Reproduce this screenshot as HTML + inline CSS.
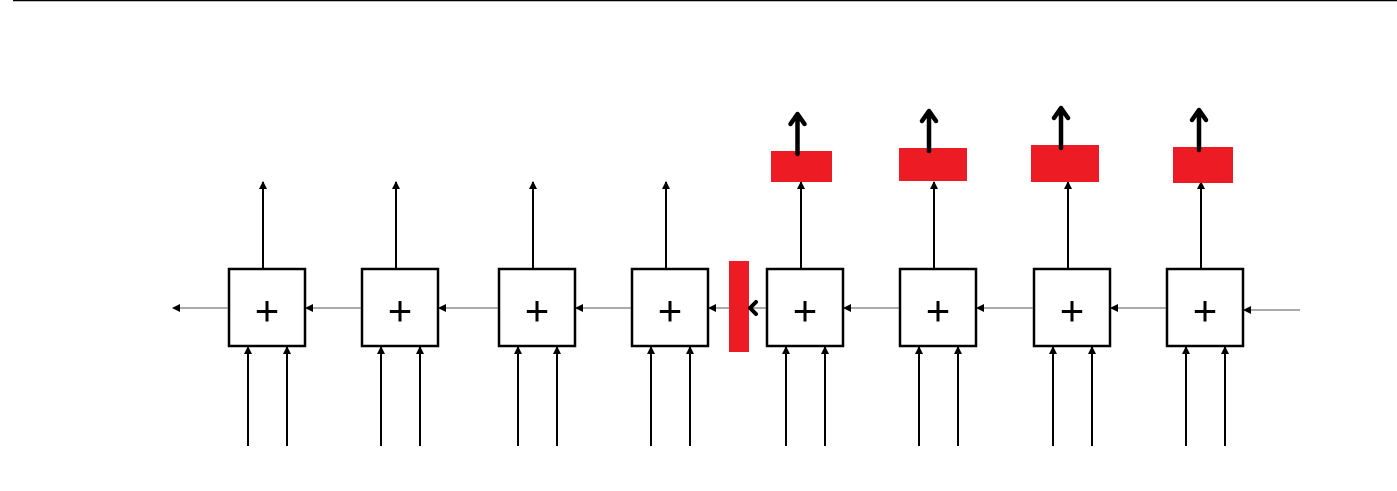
<!DOCTYPE html>
<html><head><meta charset="utf-8"><style>html,body{margin:0;padding:0;background:#fff;width:1397px;height:491px;overflow:hidden}</style></head>
<body>
<svg id="s" width="1397" height="491" xmlns="http://www.w3.org/2000/svg">
<defs>
<marker id="ah" markerWidth="8" markerHeight="8" refX="7" refY="4" orient="auto" markerUnits="userSpaceOnUse"><path d="M0,0 L8,4 L0,8 z" fill="#000"/></marker>
</defs>
<line x1="13" y1="0.5" x2="1397" y2="0.5" stroke="#000" stroke-width="1.5"/>
<g id="g"></g>
</svg>
<script>
const boxCount = 8;
const highlighted = [false,false,false,false,true,true,true,true];
const plusLabels = ['+','+','+','+','+','+','+','+'];
const NS='http://www.w3.org/2000/svg';
const g=document.getElementById('g');
const lefts=[228,361,498,631,766,899,1033,1166];
const reds=[[771,151,61,31],[899,148,68,33],[1031,145,68,37],[1173,147,60,36]];
function el(t,a,p){const e=document.createElementNS(NS,t);for(const k in a)e.setAttribute(k,a[k]);(p||g).appendChild(e);return e;}
let ri=0;
for(let i=0;i<boxCount;i++){
  const L=lefts[i],cx=L+35;
  const b=el('rect',{x:L+1,y:269,width:76,height:77,fill:'#fff',stroke:'#000','stroke-width':2.5});
  
  
  const t=el('text',{x:L+39,y:325,'font-family':'Liberation Sans, sans-serif','font-size':42,'text-anchor':'middle'});
  t.textContent=plusLabels[i];
  
  
  [L+20,L+59].forEach(x=>{const a=el('line',{x1:x,y1:446,x2:x,y2:347,stroke:'#000','stroke-width':2,'marker-end':'url(#ah)'});
    
    });
  const o=el('line',{x1:cx,y1:268,x2:cx,y2:182,stroke:'#000','stroke-width':2,'marker-end':'url(#ah)'});
  
  
  const x2=i===0?173:lefts[i-1]+78;
  const h=el('line',{x1:L,y1:308,x2:x2,y2:308,stroke:'#777','stroke-width':1.2,'marker-end':'url(#ah)'});
  
  
  if(highlighted[i]){
    const r=reds[ri++];
    const rr=el('rect',{x:r[0],y:r[1],width:r[2],height:r[3],fill:'#ed1c24'});
    
    
    const mx=r[0]+r[2]/2-4;
    const ar=el('path',{d:`M${mx},${r[1]+3} L${mx},${r[1]-36} M${mx-7},${r[1]-27} L${mx},${r[1]-37} L${mx+7},${r[1]-27}`,fill:'none',stroke:'#000','stroke-width':4.5,'stroke-linecap':'round','stroke-linejoin':'round'});
    
    
  }
}
const h2=el('line',{x1:1300,y1:310,x2:1244,y2:310,stroke:'#777','stroke-width':1.2,'marker-end':'url(#ah)'});


const vb=el('rect',{x:729,y:261,width:20,height:91,fill:'#ed1c24'});


const ca=el('path',{d:'M756,302 L750,308 L756,314',fill:'none',stroke:'#000','stroke-width':4,'stroke-linecap':'round','stroke-linejoin':'round'});


</script>
</body></html>
